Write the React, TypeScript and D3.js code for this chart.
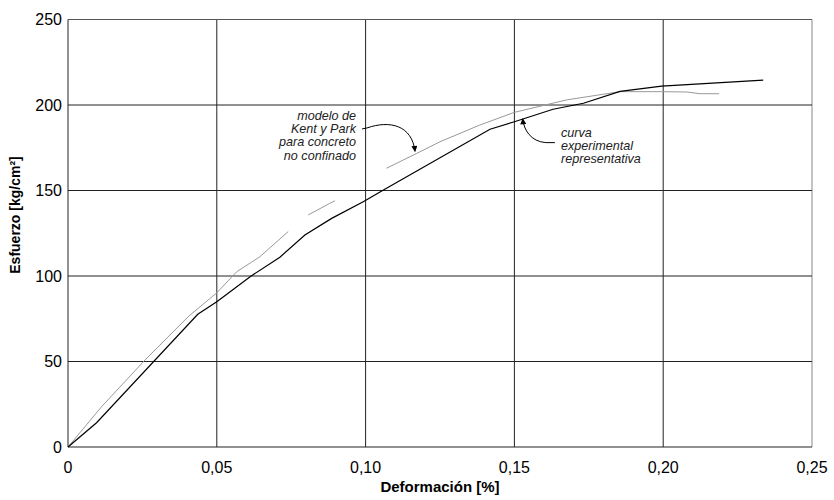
import React from "react";
import * as d3 from "d3";

const xTicks = [0, 0.05, 0.1, 0.15, 0.2, 0.25];
const xTickLabels = ["0", "0,05", "0,10", "0,15", "0,20", "0,25"];
const yTicks = [0, 50, 100, 150, 200, 250];

// curva experimental representativa (deformación %, esfuerzo kg/cm²)
const expStrain = [0, 0.0096, 0.0436, 0.05, 0.0612, 0.0712, 0.0796, 0.0886, 0.0992, 0.106, 0.1418, 0.15, 0.163, 0.1732, 0.1855, 0.1995, 0.2336];
const expStress = [0, 14.2, 77.6, 85, 99.6, 111, 124, 133.7, 143.4, 150.3, 185.8, 190.2, 197.5, 201, 208, 211, 214.6];

// modelo de Kent y Park (null = tramo no visible)
const kpStrain = [0, 0.0113, 0.0259, 0.0404, 0.05, 0.0567, 0.0645, 0.074, 0.077, 0.0807, 0.088, 0.0897, 0.098, 0.107, 0.1172, 0.125, 0.1384, 0.15, 0.1676, 0.1855, 0.1995, 0.2079, 0.2124, 0.2188];
const kpStress: (number | null)[] = [0, 23.6, 50.9, 76.2, 90.2, 102.5, 111.3, 126, null, 135.7, 142.5, 144, null, 163, 171.7, 178.5, 188.3, 195.7, 203, 207.8, 207.8, 207.6, 206.6, 206.6];

const labelKP = ["modelo de", "Kent y Park", "para concreto", "no confinado"];
const labelExp = ["curva", "experimental", "representativa"];

export default function App() {
  const W = 834, H = 500;
  const x = d3.scaleLinear().domain([0, 0.25]).range([68, 812]);
  const y = d3.scaleLinear().domain([0, 250]).range([447, 19.5]);

  const expData = expStrain.map((s, i) => [s, expStress[i]] as [number, number]);
  const kpData = kpStrain.map((s, i) => [s, kpStress[i]] as [number, number | null]);

  const lineExp = d3.line<[number, number]>().x(d => x(d[0])).y(d => y(d[1]));
  const lineKP = d3
    .line<[number, number | null]>()
    .defined(d => d[1] !== null)
    .x(d => x(d[0]))
    .y(d => y(d[1] as number));

  // annotation anchors in data units
  const a1s = [0.0988, 186];
  const a1e = [0.1166, 172.3];
  const a2s = [0.1636, 178];
  const a2e = [0.1528, 192.5];

  const p1 = `M${x(a1s[0])},${y(a1s[1])} L${x(a1s[0]) + 5},${y(a1s[1]) - 1} C${x(a1s[0]) + 28},${y(a1s[1]) - 9} ${x(a1e[0]) - 3},${y(a1e[1]) - 27} ${x(a1e[0])},${y(a1e[1]) - 1}`;
  const p2 = `M${x(a2s[0])},${y(a2s[1])} L${x(a2s[0]) - 9},${y(a2s[1])} C${x(a2s[0]) - 24},${y(a2s[1]) - 1} ${x(a2e[0]) + 1},${y(a2e[1]) + 12} ${x(a2e[0])},${y(a2e[1]) + 1}`;

  const font = "'Liberation Sans', Arial, sans-serif";

  return (
    <svg width={W} height={H} style={{ position: "absolute", left: 0, top: 0, background: "#fff" }} fontFamily={font}>
      <defs>
        <marker id="ah" viewBox="0 0 10 10" refX="9" refY="5" markerWidth="7" markerHeight="6" markerUnits="userSpaceOnUse" orient="auto">
          <path d="M0,0 L10,5 L0,10 Z" fill="#000" />
        </marker>
      </defs>
      {/* grid */}
      {xTicks.map((t, i) => (
        <line key={"gx" + i} x1={x(t)} x2={x(t)} y1={y(0)} y2={y(250)} stroke={i === xTicks.length - 1 ? "#888" : "#222"} strokeWidth={1} />
      ))}
      {yTicks.map((t, i) => (
        <line key={"gy" + i} x1={x(0)} x2={x(0.25)} y1={y(t)} y2={y(t)} stroke={i === yTicks.length - 1 ? "#555" : "#222"} strokeWidth={1} />
      ))}
      {/* tick labels */}
      {xTicks.map((t, i) => (
        <text key={"tx" + i} x={x(t)} y={473} textAnchor="middle" fontSize={16} fill="#000">{xTickLabels[i]}</text>
      ))}
      {yTicks.map((t, i) => (
        <text key={"ty" + i} x={62} y={y(t)} dy="0.35em" textAnchor="end" fontSize={16} fill="#000">{String(t)}</text>
      ))}
      {/* axis titles */}
      <text x={440} y={492} textAnchor="middle" fontSize={15} fontWeight="bold">Deformación [%]</text>
      <text transform={`translate(20,${215}) rotate(-90)`} textAnchor="middle" fontSize={14} fontWeight="bold">Esfuerzo [kg/cm²]</text>
      {/* series */}
      <path d={lineKP(kpData) || ""} fill="none" stroke="#999" strokeWidth={1} />
      <path d={lineExp(expData) || ""} fill="none" stroke="#000" strokeWidth={1.2} />
      {/* annotations */}
      {labelKP.map((s, i) => (
        <text key={"k" + i} x={356} y={120 + i * 13.2} textAnchor="end" fontSize={12.6} fontStyle="italic" fill="#222">{s}</text>
      ))}
      {labelExp.map((s, i) => (
        <text key={"e" + i} x={561} y={137 + i * 13} fontSize={12.6} fontStyle="italic" fill="#222">{s}</text>
      ))}
      <path d={p1} fill="none" stroke="#000" strokeWidth={1} markerEnd="url(#ah)" />
      <path d={p2} fill="none" stroke="#000" strokeWidth={1} markerEnd="url(#ah)" />
    </svg>
  );
}
